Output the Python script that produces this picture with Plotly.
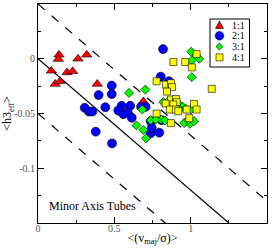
import plotly.graph_objects as go

# ---- data ----
r11_x = [0.1375, 0.133, 0.262, 0.319, 0.087, 0.19, 0.227, 0.113, 0.144, 0.388, 0.69]
r11_y = [0.0036, -0.0003, 0.0, 0.0036, -0.011, -0.0125, -0.0115, -0.023, -0.0206, -0.023, -0.039]

r21_x = [0.397, 0.483, 0.483, 0.306, 0.334, 0.356, 0.441, 0.548, 0.604, 0.526, 0.559, 0.589,
         0.614, 0.378, 0.485, 0.675, 0.705, 0.738, 0.794, 0.738, 0.81, 0.819, 0.804, 0.858, 0.745]
r21_y = [-0.0332, -0.0323, -0.0245, -0.0448, -0.0482, -0.0482, -0.0443, -0.043, -0.043, -0.0473,
         -0.0506, -0.0494, -0.0539, -0.0666, -0.0773, -0.0439, -0.0439, -0.0682, -0.0675, -0.057,
         -0.0561, 0.0088, -0.0164, -0.0206, -0.063]

r31_x = [0.596, 0.703, 0.683, 0.645, 0.69, 0.707, 0.738, 0.821, 0.843, 0.925, 0.948, 0.969, 1.002,
         0.958, 0.995, 1.022, 0.984, 1.004, 1.056, 1.008, 1.007, 0.804, 0.832, 0.912, 0.771]
r31_y = [-0.0312, -0.0282, -0.0464, -0.0609, -0.065, -0.0727, -0.0561, -0.0397, -0.0403, -0.0418,
         -0.0439, -0.0457, -0.0464, -0.0586, -0.0594, -0.057, -0.0561, 0.0064, 0.0, -0.0014,
         -0.0168, -0.0555, -0.0564, -0.0443, -0.0555]

r41_x = [0.887, 0.964, 1.039, 1.008, 0.777, 0.838, 0.871, 0.878, 0.845, 1.138, 0.871, 0.904,
         0.836, 0.908, 0.886, 1.022, 0.864, 0.904, 0.974, 1.039, 0.919, 0.777, 0.991, 0.871]
r41_y = [-0.003, -0.003, 0.0044, -0.0079, -0.0206, -0.0236, -0.0223, -0.0259, -0.03, -0.0275,
         -0.0373, -0.0368, -0.0409, -0.0397, -0.0418, -0.0412, -0.0464, -0.0464, -0.0464, -0.0464,
         -0.0479, -0.05, -0.0543, -0.0588]

series_names = ["1:1", "2:1", "3:1", "4:1"]

line_x = [0.0, 1.5]
line_slope = -0.12
line_intercepts = [0.0, 0.05, -0.05]
line_dashes = ["solid", "dash", "dash"]

x_ticks = [0, 0.5, 1, 1.5]
x_ticklabels = ["0", "0.5", "1", "1.5"]
y_ticks = [0.05, 0, -0.05, -0.1]
y_ticklabels = ["0.05", "0", "-0.05", "-0.1"]

FONT = "Liberation Serif, Times New Roman, serif"
COLORS = ["#ff0000", "#0000ff", "#00ff00", "#ffff00"]
SYMBOLS = ["triangle-up", "circle", "diamond", "square"]
SIZES = [9, 9, 7, 7]

W, H = 273, 252
ML, MR, MT, MB = 38, 6, 4, 29
PW, PH = W - ML - MR, H - MT - MB


def px(xp):
    return (xp - ML) / PW


def py(yp):
    return (H - MB - yp) / PH


fig = go.Figure()

for b, d in zip(line_intercepts, line_dashes):
    fig.add_trace(go.Scatter(
        x=line_x, y=[b + line_slope * xv for xv in line_x], mode="lines",
        line=dict(color="black", width=1.2, dash=d), showlegend=False, hoverinfo="skip"))

outline = dict(color="black", width=0.6)
for xs, ys, name, col, sym, sz in zip([r11_x, r21_x, r31_x, r41_x], [r11_y, r21_y, r31_y, r41_y],
                                      series_names, COLORS, SYMBOLS, SIZES):
    fig.add_trace(go.Scatter(x=xs, y=ys, mode="markers", name=name, showlegend=False,
                             marker=dict(symbol=sym, size=sz, color=col, line=outline)))

axis_common = dict(showline=True, linecolor="black", linewidth=1, mirror="ticks",
                   ticks="inside", ticklen=6, tickcolor="black", tickwidth=1,
                   showgrid=False, zeroline=False,
                   tickfont=dict(family=FONT, size=10, color="#555555"))

fig.update_xaxes(range=[0, 1.5], tickvals=x_ticks, ticktext=x_ticklabels,
                 minor=dict(dtick=0.25, ticks="inside", ticklen=3, tickcolor="black"),
                 ticklabelstandoff=-4,
                 title=dict(text="&lt;(v<sub>maj</sub>/σ)&gt;", standoff=0,
                            font=dict(family=FONT, size=12, color="black")),
                 **axis_common)
fig.update_yaxes(range=[-0.15, 0.05], tickvals=y_ticks, ticktext=y_ticklabels,
                 minor=dict(dtick=0.025, ticks="inside", ticklen=3, tickcolor="black"),
                 title=dict(text="&lt;h3<sub>eff</sub>&gt;", standoff=2,
                            font=dict(family=FONT, size=12, color="black")),
                 **axis_common)

fig.add_annotation(x=0.06, y=-0.1345, xref="x", yref="y", text="Minor Axis Tubes",
                   showarrow=False, xanchor="left", yanchor="middle",
                   font=dict(family=FONT, size=12, color="black"))

# ---- legend box drawn in the layout ----
shapes = [dict(type="rect", xref="paper", yref="paper", x0=px(210), x1=px(249.5),
               y0=py(67), y1=py(19), line=dict(color="black", width=1), fillcolor="white")]
sym_x = 219.5
row_y = [25, 35.8, 46.6, 57.4]
lo = dict(color="black", width=0.6)
# triangle
cy = row_y[0]
shapes.append(dict(type="path", xref="paper", yref="paper",
                   path="M {:.5f},{:.5f} L {:.5f},{:.5f} L {:.5f},{:.5f} Z".format(
                       px(sym_x - 4), py(cy + 3.5), px(sym_x + 4), py(cy + 3.5), px(sym_x), py(cy - 4)),
                   fillcolor=COLORS[0], line=lo))
# circle
cy = row_y[1]
shapes.append(dict(type="circle", xref="paper", yref="paper", x0=px(sym_x - 4.3), x1=px(sym_x + 4.3),
                   y0=py(cy + 4.3), y1=py(cy - 4.3), fillcolor=COLORS[1], line=lo))
# diamond
cy = row_y[2]
shapes.append(dict(type="path", xref="paper", yref="paper",
                   path="M {:.5f},{:.5f} L {:.5f},{:.5f} L {:.5f},{:.5f} L {:.5f},{:.5f} Z".format(
                       px(sym_x - 3.5), py(cy), px(sym_x), py(cy - 3.5), px(sym_x + 3.5), py(cy),
                       px(sym_x), py(cy + 3.5)),
                   fillcolor=COLORS[2], line=lo))
# square
cy = row_y[3]
shapes.append(dict(type="rect", xref="paper", yref="paper", x0=px(sym_x - 3.5), x1=px(sym_x + 3.5),
                   y0=py(cy + 3.5), y1=py(cy - 3.5), fillcolor=COLORS[3], line=lo))

for name, cy in zip(series_names, row_y):
    fig.add_annotation(x=px(229.5), y=py(cy), xref="paper", yref="paper", text=name,
                       showarrow=False, xanchor="left", yanchor="middle",
                       font=dict(family=FONT, size=10, color="black"))

fig.update_layout(
    width=W, height=H,
    margin=dict(l=ML, r=MR, t=MT, b=MB),
    paper_bgcolor="white", plot_bgcolor="white",
    font=dict(family=FONT, size=10, color="black"),
    showlegend=False,
    shapes=shapes,
)

fig.write_html("out.html", config={"displayModeBar": False},
               post_script="document.body.style.margin='0px';document.body.style.overflow='hidden';")
